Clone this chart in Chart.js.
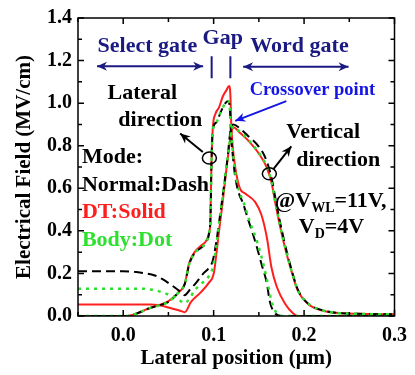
<!DOCTYPE html>
<html>
<head>
<meta charset="utf-8">
<script src="https://cdn.jsdelivr.net/npm/chart.js@4.4.0/dist/chart.umd.min.js"></script>
<style>
  html, body { margin: 0; padding: 0; background: #ffffff; }
  #wrap { width: 415px; height: 375px; }
</style>
</head>
<body>
<div id="wrap"><canvas id="c" width="415" height="375"></canvas></div>
<script>
// ---------- DATA ----------
// Lateral-direction field
const latX_DT = [-0.05, 0.003, 0.015, 0.028, 0.04, 0.05, 0.061, 0.068, 0.073, 0.079, 0.086, 0.092, 0.095, 0.0965, 0.0975, 0.099, 0.102, 0.106, 0.11, 0.114, 0.117, 0.1185, 0.1195, 0.121, 0.124, 0.129, 0.135, 0.146, 0.153, 0.159, 0.164, 0.17, 0.179, 0.188, 0.193, 0.3];
const latY_DT = [0, 0, 0.012, 0.035, 0.052, 0.07, 0.11, 0.15, 0.25, 0.30, 0.33, 0.355, 0.39, 0.46, 0.70, 0.88, 0.95, 0.98, 1.03, 1.06, 1.08, 1.04, 0.90, 0.80, 0.695, 0.60, 0.575, 0.535, 0.473, 0.365, 0.227, 0.135, 0.058, 0.012, 0, 0];

const latX_Normal = [-0.05, 0.004, 0.015, 0.028, 0.04, 0.05, 0.061, 0.068, 0.073, 0.079, 0.086, 0.092, 0.095, 0.0965, 0.0975, 0.099, 0.103, 0.108, 0.113, 0.116, 0.118, 0.119, 0.121, 0.124, 0.128, 0.132, 0.139, 0.146, 0.153, 0.159, 0.162, 0.168, 0.175, 0.3];
const latY_Normal = [0, 0, 0.012, 0.035, 0.05, 0.066, 0.11, 0.15, 0.243, 0.296, 0.32, 0.35, 0.39, 0.46, 0.70, 0.87, 0.91, 0.96, 1.0, 1.01, 0.97, 0.87, 0.76, 0.65, 0.575, 0.535, 0.442, 0.35, 0.243, 0.15, 0.07, 0.012, 0, 0];

const latX_Body = [-0.05, 0.004, 0.015, 0.028, 0.04, 0.05, 0.061, 0.068, 0.073, 0.079, 0.086, 0.092, 0.095, 0.0965, 0.0975, 0.099, 0.103, 0.108, 0.113, 0.116, 0.118, 0.119, 0.121, 0.124, 0.128, 0.133, 0.14, 0.148, 0.155, 0.16, 0.164, 0.17, 0.177, 0.3];
const latY_Body = [0, 0, 0.012, 0.035, 0.05, 0.066, 0.11, 0.15, 0.243, 0.296, 0.32, 0.35, 0.39, 0.46, 0.70, 0.87, 0.91, 0.96, 1.0, 1.01, 0.97, 0.88, 0.78, 0.67, 0.59, 0.535, 0.442, 0.35, 0.243, 0.15, 0.07, 0.012, 0, 0];

// Vertical-direction field
const vertX_DT = [-0.05, 0.03, 0.04, 0.054, 0.062, 0.068, 0.075, 0.086, 0.095, 0.1, 0.103, 0.106, 0.11, 0.115, 0.12, 0.1225, 0.128, 0.137, 0.151, 0.159, 0.164, 0.168, 0.173, 0.179, 0.186, 0.193, 0.204, 0.218, 0.235, 0.26, 0.3];
const vertY_DT = [0.054, 0.054, 0.05, 0.035, 0.026, 0.018, 0.066, 0.112, 0.158, 0.197, 0.29, 0.40, 0.535, 0.72, 0.87, 0.885, 0.865, 0.83, 0.757, 0.695, 0.627, 0.535, 0.43, 0.32, 0.212, 0.12, 0.058, 0.028, 0.015, 0.01, 0.008];

const vertX_Normal = [-0.05, 0.0, 0.012, 0.022, 0.035, 0.043, 0.054, 0.062, 0.068, 0.074, 0.081, 0.088, 0.095, 0.099, 0.103, 0.106, 0.11, 0.115, 0.119, 0.122, 0.128, 0.137, 0.15, 0.157, 0.164, 0.168, 0.173, 0.179, 0.186, 0.193, 0.204, 0.218, 0.235, 0.26, 0.3];
const vertY_Normal = [0.21, 0.21, 0.208, 0.202, 0.19, 0.174, 0.143, 0.118, 0.098, 0.125, 0.158, 0.197, 0.227, 0.26, 0.35, 0.44, 0.565, 0.73, 0.88, 0.90, 0.885, 0.85, 0.795, 0.745, 0.65, 0.56, 0.45, 0.335, 0.22, 0.125, 0.06, 0.03, 0.015, 0.01, 0.008];

const vertX_Body = [-0.05, 0.02, 0.03, 0.043, 0.05, 0.057, 0.063, 0.067, 0.072, 0.079, 0.086, 0.095, 0.099, 0.103, 0.106, 0.11, 0.115, 0.12, 0.1225, 0.128, 0.137, 0.151, 0.159, 0.164, 0.168, 0.173, 0.179, 0.186, 0.193, 0.204, 0.218, 0.235, 0.26, 0.3];
const vertY_Body = [0.128, 0.128, 0.125, 0.112, 0.10, 0.089, 0.072, 0.06, 0.074, 0.12, 0.15, 0.189, 0.227, 0.33, 0.44, 0.56, 0.73, 0.875, 0.89, 0.87, 0.835, 0.76, 0.70, 0.63, 0.54, 0.435, 0.325, 0.215, 0.122, 0.06, 0.03, 0.015, 0.01, 0.008];

// Axis ticks
const xTickValues = [0.0, 0.1, 0.2, 0.3];
const yTickValues = [0.0, 0.2, 0.4, 0.6, 0.8, 1.0, 1.2, 1.4];

// ---------- STYLE ----------
const SERIF = '"Liberation Serif", "Times New Roman", serif';
const RED = '#ff1e1e';
const GREEN = '#2ee02e';
const BLACK = '#000000';
const NAVY = '#1a1a82';
const BLUE = '#1414e6';

const pts = (xs, ys) => xs.map((x, i) => ({ x: x, y: ys[i] }));

function ds(xs, ys, color, dash, width) {
  return {
    data: pts(xs, ys),
    borderColor: color,
    borderWidth: width,
    borderDash: dash,
    pointRadius: 0,
    showLine: true,
    fill: false,
    cubicInterpolationMode: 'monotone'
  };
}

// dataset 0 is drawn on top
const datasets = [
  ds(latX_Body, latY_Body, GREEN, [3, 5], 2.5),
  ds(vertX_Body, vertY_Body, GREEN, [3, 5], 2.5),
  ds(latX_Normal, latY_Normal, BLACK, [9, 5], 2),
  ds(vertX_Normal, vertY_Normal, BLACK, [9, 5], 2),
  ds(latX_DT, latY_DT, RED, [], 2),
  ds(vertX_DT, vertY_DT, RED, [], 2)
];

// annotation layout (data units)
const notes = {
  selectGate: [-0.0283, 1.2396], selectArrow: [-0.029, 0.0884, 1.1737],
  gap: [0.0877, 1.278], gapLines: [0.0978, 0.1185, 1.2198, 1.1166],
  wordGate: [0.1405, 1.2396], wordArrow: [0.1326, 0.2492, 1.1705],
  crossText: [0.1398, 1.040], crossArrow: [0.1804, 1.0092, 0.1239, 0.917],
  latText1: [-0.0174, 1.0184], latText2: [-0.0054, 0.8926],
  latCircle: [0.0953, 0.742], latArrow: [0.088, 0.77, 0.063, 0.857],
  vertText1: [0.1804, 0.834], vertText2: [0.1913, 0.7037],
  vertCircle: [0.1616, 0.668], vertArrow: [0.1663, 0.691, 0.1859, 0.797],
  modeX: -0.0457, modeY: [0.7189, 0.5885, 0.4608, 0.3304],
  cond1: [0.1677, 0.5115], cond2: [0.1942, 0.3885]
};

const decor = {
  id: 'decor',
  afterDraw(chart) {
    const ctx = chart.ctx;
    const xs = chart.scales.x, ys = chart.scales.y;
    const a = chart.chartArea;
    const X = v => xs.getPixelForValue(v);
    const Y = v => ys.getPixelForValue(v);
    ctx.save();
    // frame
    ctx.strokeStyle = '#000';
    ctx.lineWidth = 1.5;
    ctx.strokeRect(a.left, a.top, a.right - a.left, a.bottom - a.top);
    // inward ticks
    ctx.lineWidth = 1.5;
    for (let k = -1; k <= 6; k++) {
      const v = k * 0.05;
      const px = X(v);
      const len = (k % 2 === 0) ? 6 : 4;
      ctx.beginPath();
      ctx.moveTo(px, a.bottom); ctx.lineTo(px, a.bottom - len);
      ctx.moveTo(px, a.top); ctx.lineTo(px, a.top + len);
      ctx.stroke();
    }
    for (let k = 0; k <= 14; k++) {
      const py = Y(k * 0.1);
      const len = (k % 2 === 0) ? 6 : 4;
      ctx.beginPath();
      ctx.moveTo(a.left, py); ctx.lineTo(a.left + len, py);
      ctx.moveTo(a.right, py); ctx.lineTo(a.right - len, py);
      ctx.stroke();
    }

    function text(str, p, size, color, align) {
      ctx.font = 'bold ' + size + 'px ' + SERIF;
      ctx.fillStyle = color;
      ctx.textAlign = align || 'left';
      ctx.textBaseline = 'alphabetic';
      ctx.fillText(str, X(p[0]), Y(p[1]));
    }
    function head(x1, y1, x2, y2, color) {
      const ang = Math.atan2(y2 - y1, x2 - x1);
      const L = 10, W = 4.5;
      ctx.fillStyle = color;
      ctx.beginPath();
      ctx.moveTo(x2, y2);
      ctx.lineTo(x2 - L * Math.cos(ang) + W * Math.sin(ang), y2 - L * Math.sin(ang) - W * Math.cos(ang));
      ctx.lineTo(x2 - L * Math.cos(ang) * 0.7, y2 - L * Math.sin(ang) * 0.7);
      ctx.lineTo(x2 - L * Math.cos(ang) - W * Math.sin(ang), y2 - L * Math.sin(ang) + W * Math.cos(ang));
      ctx.closePath();
      ctx.fill();
    }
    function arrow(x1, y1, x2, y2, color, both) {
      ctx.strokeStyle = color;
      ctx.lineWidth = 2;
      ctx.beginPath();
      ctx.moveTo(x1, y1); ctx.lineTo(x2, y2);
      ctx.stroke();
      head(x1, y1, x2, y2, color);
      if (both) head(x2, y2, x1, y1, color);
    }
    function ellipse(p, color) {
      ctx.strokeStyle = color;
      ctx.lineWidth = 1.5;
      ctx.beginPath();
      ctx.ellipse(X(p[0]), Y(p[1]), 7, 6, 0, 0, Math.PI * 2);
      ctx.stroke();
    }

    // region labels
    text('Select gate', notes.selectGate, 22, NAVY);
    arrow(X(notes.selectArrow[0]), Y(notes.selectArrow[2]), X(notes.selectArrow[1]), Y(notes.selectArrow[2]), NAVY, true);
    text('Gap', notes.gap, 22, NAVY);
    ctx.strokeStyle = NAVY; ctx.lineWidth = 2;
    ctx.beginPath();
    ctx.moveTo(X(notes.gapLines[0]), Y(notes.gapLines[2])); ctx.lineTo(X(notes.gapLines[0]), Y(notes.gapLines[3]));
    ctx.moveTo(X(notes.gapLines[1]), Y(notes.gapLines[2])); ctx.lineTo(X(notes.gapLines[1]), Y(notes.gapLines[3]));
    ctx.stroke();
    text('Word gate', notes.wordGate, 22, NAVY);
    arrow(X(notes.wordArrow[0]), Y(notes.wordArrow[2]), X(notes.wordArrow[1]), Y(notes.wordArrow[2]), NAVY, true);

    // crossover
    text('Crossover point', notes.crossText, 18.5, BLUE);
    arrow(X(notes.crossArrow[0]), Y(notes.crossArrow[1]), X(notes.crossArrow[2]), Y(notes.crossArrow[3]), BLUE, false);

    // lateral / vertical direction
    text('Lateral', notes.latText1, 22, BLACK);
    text('direction', notes.latText2, 22, BLACK);
    ellipse(notes.latCircle, BLACK);
    arrow(X(notes.latArrow[0]), Y(notes.latArrow[1]), X(notes.latArrow[2]), Y(notes.latArrow[3]), BLACK, false);
    text('Vertical', notes.vertText1, 22, BLACK);
    text('direction', notes.vertText2, 22, BLACK);
    ellipse(notes.vertCircle, BLACK);
    arrow(X(notes.vertArrow[0]), Y(notes.vertArrow[1]), X(notes.vertArrow[2]), Y(notes.vertArrow[3]), BLACK, false);

    // mode legend
    text('Mode:', [notes.modeX, notes.modeY[0]], 22, BLACK);
    text('Normal:Dash', [notes.modeX, notes.modeY[1]], 22, BLACK);
    text('DT:Solid', [notes.modeX, notes.modeY[2]], 22, RED);
    text('Body:Dot', [notes.modeX, notes.modeY[3]], 22, GREEN);

    // bias condition with subscripts
    function subText(parts, p) {
      let x = X(p[0]);
      const y = Y(p[1]);
      ctx.fillStyle = BLACK;
      ctx.textAlign = 'left';
      ctx.textBaseline = 'alphabetic';
      parts.forEach(pt => {
        const size = pt.sub ? 14 : 22;
        ctx.font = 'bold ' + size + 'px ' + SERIF;
        ctx.fillText(pt.t, x, y + (pt.sub ? 5 : 0));
        x += ctx.measureText(pt.t).width;
      });
    }
    subText([{ t: '@V' }, { t: 'WL', sub: true }, { t: '=11V,' }], notes.cond1);
    subText([{ t: 'V' }, { t: 'D', sub: true }, { t: '=4V' }], notes.cond2);

    ctx.restore();
  }
};

new Chart(document.getElementById('c'), {
  type: 'scatter',
  data: { datasets: datasets },
  options: {
    responsive: false,
    animation: false,
    layout: { padding: { top: 12, right: 15, left: 0, bottom: 0 } },
    plugins: { legend: { display: false }, tooltip: { enabled: false } },
    scales: {
      x: {
        type: 'linear', min: -0.05, max: 0.3,
        afterBuildTicks: s => { s.ticks = xTickValues.map(v => ({ value: v })); },
        afterFit: s => { s.height = 59; },
        grid: { display: false, drawTicks: false },
        border: { display: false },
        ticks: { padding: 8, color: '#000', font: { family: SERIF, size: 20, weight: 'bold' },
                 callback: v => Number(v).toFixed(1), maxRotation: 0, autoSkip: false },
        title: { display: true, text: 'Lateral position (\u03bcm)', color: '#000',
                 font: { family: SERIF, size: 21, weight: 'bold' }, padding: { top: 0, bottom: 4 } }
      },
      y: {
        type: 'linear', min: 0, max: 1.4,
        afterBuildTicks: s => { s.ticks = yTickValues.map(v => ({ value: v })); },
        afterFit: s => { s.width = 78; },
        grid: { display: false, drawTicks: false },
        border: { display: false },
        ticks: { padding: 6, color: '#000', font: { family: SERIF, size: 20, weight: 'bold' },
                 callback: v => Number(v).toFixed(1), autoSkip: false },
        title: { display: true, text: 'Electrical Field (MV/cm)', color: '#000',
                 font: { family: SERIF, size: 21, weight: 'bold' }, padding: { top: 12, bottom: 0 } }
      }
    }
  },
  plugins: [decor]
});
</script>
</body>
</html>
